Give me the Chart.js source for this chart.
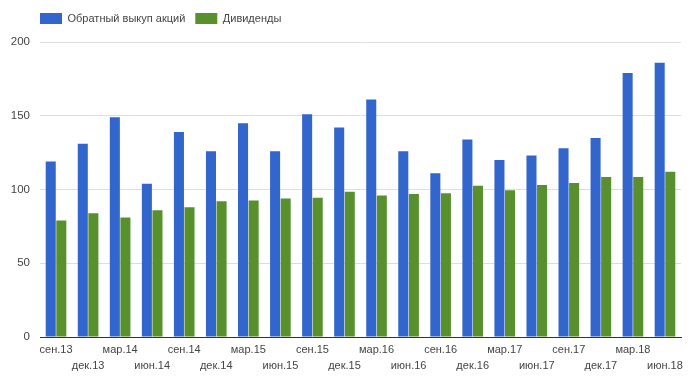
<!DOCTYPE html>
<html>
<head>
<meta charset="utf-8">
<script src="https://cdn.jsdelivr.net/npm/chart.js@4/dist/chart.umd.min.js"></script>
<style>
  html, body { margin: 0; padding: 0; background: #fff; }
  #wrap { width: 698px; height: 386px; position: relative; }
</style>
</head>
<body>
<div id="wrap"><canvas id="chart"></canvas></div>
<script>
// ---------- DATA ----------
const quarters = [
  "сен.13", "дек.13", "мар.14", "июн.14", "сен.14", "дек.14", "мар.15", "июн.15",
  "сен.15", "дек.15", "мар.16", "июн.16", "сен.16", "дек.16", "мар.17", "июн.17",
  "сен.17", "дек.17", "мар.18", "июн.18"
];
const buybacks = [
  119, 131, 149, 104, 139, 126, 145, 126, 151, 142,
  161, 126, 111, 134, 120, 123, 128, 135, 179, 186
];
const dividends = [
  79, 84, 81, 86, 88, 92, 92.5, 94, 94.5, 98.5,
  96, 97, 97.5, 102.5, 99.5, 103, 104.5, 108.5, 108.5, 112
];
const yMin = 0, yMax = 200, yStep = 50;

// staggered labels: even index on the first row, odd on the second
const xLabels = quarters.map((q, i) => i % 2 === 0 ? [q, ""] : ["", q]);

const FONT = "'Liberation Sans', Arial, sans-serif";

// legend: start it in line with the plot, and leave a gap below it
const legendTweak = {
  id: "legendTweak",
  beforeInit(chart) {
    const fit = chart.legend.fit;
    chart.legend.fit = function () {
      fit.call(this);
      this.height += 8;
    };
  },
  afterLayout(chart) {
    chart.legend.left += 25;
  }
};

new Chart(document.getElementById("chart").getContext("2d"), {
  type: "bar",
  data: {
    labels: xLabels,
    datasets: [
      { label: "Обратный выкуп акций", data: buybacks, backgroundColor: "#3366cc" },
      { label: "Дивиденды", data: dividends, backgroundColor: "#58902e" }
    ]
  },
  plugins: [legendTweak],
  options: {
    responsive: true,
    maintainAspectRatio: false,
    animation: false,
    categoryPercentage: 0.66,
    barPercentage: 0.95,
    layout: { padding: { left: 5, right: 17, top: 3, bottom: 7 } },
    plugins: {
      tooltip: { enabled: false },
      legend: {
        position: "top",
        align: "start",
        labels: {
          boxWidth: 22,
          boxHeight: 11,
          padding: 10,
          color: "#444",
          font: { family: FONT, size: 11 }
        }
      }
    },
    scales: {
      x: {
        grid: { display: false, drawTicks: false },
        border: { color: "#333", width: 1 },
        ticks: {
          autoSkip: false,
          maxRotation: 0,
          minRotation: 0,
          color: "#444",
          padding: 5,
          font: { family: FONT, size: 11, lineHeight: 1.45 }
        }
      },
      y: {
        min: yMin,
        max: yMax,
        afterFit: s => { s.width = 35; },
        grid: { color: "#dddddd", drawTicks: false },
        border: { display: false },
        ticks: {
          stepSize: yStep,
          color: "#444",
          padding: 10,
          font: { family: FONT, size: 11.5 }
        }
      }
    }
  }
});
</script>
</body>
</html>
